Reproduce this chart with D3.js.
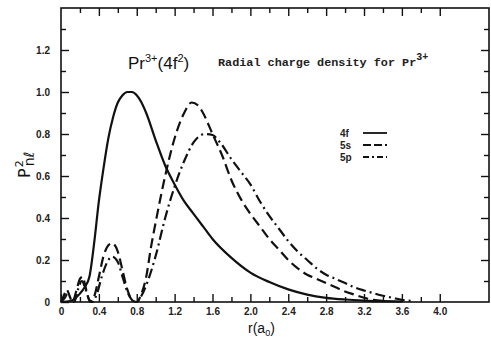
<!DOCTYPE html>
<meta charset="utf-8">
<style>
    body { margin: 0; background: #fff; }
    svg { display: block; }
    .tick text { font-family: 'Liberation Sans', Arial, sans-serif; font-weight: bold; font-size: 10px; fill: #222; }
</style>
<script src="https://d3js.org/d3.v7.min.js"></script>
<div id="graph"></div>
<script>
    // radial densities
    const r4f = [0, 0.1, 0.2, 0.25, 0.3, 0.35, 0.4, 0.45, 0.5, 0.55, 0.6, 0.65, 0.7, 0.75, 0.8, 0.85, 0.9, 1.0, 1.1, 1.2, 1.3, 1.4, 1.5, 1.6, 1.8, 2.0, 2.2, 2.4, 2.6, 2.8, 3.0, 3.2, 3.4, 3.6];
    const p4f = [0, 0.005, 0.04, 0.07, 0.12, 0.28, 0.48, 0.64, 0.78, 0.88, 0.95, 0.985, 1.0, 1.0, 0.985, 0.95, 0.9, 0.77, 0.65, 0.56, 0.48, 0.42, 0.36, 0.3, 0.21, 0.14, 0.095, 0.06, 0.035, 0.02, 0.012, 0.007, 0.004, 0.002];

    const r5s = [0, 0.03, 0.06, 0.09, 0.12, 0.16, 0.2, 0.23, 0.26, 0.31, 0.36, 0.4, 0.45, 0.5, 0.54, 0.6, 0.65, 0.7, 0.75, 0.8, 0.85, 0.9, 0.95, 1.0, 1.1, 1.2, 1.3, 1.38, 1.45, 1.5, 1.6, 1.7, 1.8, 1.9, 2.0, 2.1, 2.2, 2.3, 2.4, 2.5, 2.6, 2.7, 2.8, 2.9, 3.0, 3.1, 3.2, 3.3, 3.4];
    const p5s = [0, 0.03, 0.06, 0.03, 0, 0.05, 0.11, 0.12, 0.07, 0, 0.04, 0.12, 0.22, 0.27, 0.28, 0.24, 0.15, 0.06, 0.01, 0, 0.04, 0.12, 0.26, 0.38, 0.6, 0.78, 0.9, 0.95, 0.935, 0.9, 0.8, 0.7, 0.58, 0.49, 0.42, 0.36, 0.3, 0.25, 0.2, 0.16, 0.13, 0.11, 0.09, 0.07, 0.05, 0.035, 0.02, 0.01, 0.005];

    const r5p = [0, 0.04, 0.07, 0.1, 0.14, 0.18, 0.22, 0.26, 0.3, 0.33, 0.38, 0.43, 0.5, 0.54, 0.6, 0.65, 0.7, 0.75, 0.79, 0.85, 0.9, 1.0, 1.1, 1.2, 1.3, 1.4, 1.52, 1.6, 1.68, 1.8, 1.9, 2.0, 2.1, 2.2, 2.3, 2.4, 2.5, 2.6, 2.7, 2.8, 2.9, 3.0, 3.1, 3.2, 3.3, 3.4, 3.5, 3.6, 3.7];
    const p5p = [0, 0.02, 0.04, 0.02, 0, 0.06, 0.1, 0.06, 0.01, 0, 0.04, 0.12, 0.2, 0.216, 0.19, 0.12, 0.05, 0.01, 0, 0.03, 0.08, 0.22, 0.4, 0.55, 0.67, 0.76, 0.8, 0.795, 0.76, 0.68, 0.62, 0.56, 0.48, 0.41, 0.35, 0.29, 0.24, 0.2, 0.16, 0.13, 0.11, 0.09, 0.07, 0.055, 0.042, 0.03, 0.02, 0.01, 0.005];

    const xTicks = [0, 0.4, 0.8, 1.2, 1.6, 2.0, 2.4, 2.8, 3.2, 3.6, 4.0];
    const xMinor = d3.range(0.2, 4.0, 0.4);
    const yTicks = [0, 0.2, 0.4, 0.6, 0.8, 1.0, 1.2];
    const yMinor = d3.range(0.1, 1.4, 0.2);

    const series = [
        {name: "4f", r: r4f, p: p4f, dash: null},
        {name: "5s", r: r5s, p: p5s, dash: "10,5"},
        {name: "5p", r: r5p, p: p5p, dash: "10,4,2,4"}
    ];

    const W = 491, H = 339;
    const mLeft = 61, mRight = 489, mTop = 8, mBottom = 302;

    const svg = d3.select("#graph").append("svg")
        .attr("width", W).attr("height", H);

    const x = d3.scaleLinear().domain([0, 4.52]).range([mLeft, mRight]);
    const y = d3.scaleLinear().domain([0, 1.4]).range([mBottom, mTop]);

    const fmt = d => d === 0 ? "0" : d.toFixed(1);

    // frame
    svg.append("rect")
        .attr("x", mLeft).attr("y", mTop)
        .attr("width", mRight - mLeft).attr("height", mBottom - mTop)
        .attr("fill", "none").attr("stroke", "#111").attr("stroke-width", 1.6);

    // bottom axis, ticks pointing in
    svg.append("g").attr("transform", `translate(0,${mBottom})`)
        .call(d3.axisBottom(x).tickValues(xTicks).tickFormat(fmt).tickSizeInner(-8).tickSizeOuter(0).tickPadding(6));
    svg.append("g").attr("transform", `translate(0,${mBottom})`)
        .call(d3.axisBottom(x).tickValues(xMinor).tickFormat("").tickSizeInner(-5).tickSizeOuter(0));
    // top
    svg.append("g").attr("transform", `translate(0,${mTop})`)
        .call(d3.axisTop(x).tickValues(xTicks.slice(1)).tickFormat("").tickSizeInner(-8).tickSizeOuter(0));
    svg.append("g").attr("transform", `translate(0,${mTop})`)
        .call(d3.axisTop(x).tickValues(xMinor).tickFormat("").tickSizeInner(-5).tickSizeOuter(0));
    // left
    svg.append("g").attr("transform", `translate(${mLeft},0)`)
        .call(d3.axisLeft(y).tickValues(yTicks).tickFormat(fmt).tickSizeInner(-8).tickSizeOuter(0).tickPadding(11));
    svg.append("g").attr("transform", `translate(${mLeft},0)`)
        .call(d3.axisLeft(y).tickValues(yMinor).tickFormat("").tickSizeInner(-5).tickSizeOuter(0));
    // right
    svg.append("g").attr("transform", `translate(${mRight},0)`)
        .call(d3.axisRight(y).tickValues(yTicks.slice(1)).tickFormat("").tickSizeInner(-8).tickSizeOuter(0));
    svg.append("g").attr("transform", `translate(${mRight},0)`)
        .call(d3.axisRight(y).tickValues(yMinor).tickFormat("").tickSizeInner(-5).tickSizeOuter(0));

    svg.selectAll(".domain").remove();
    svg.selectAll(".tick line").attr("stroke", "#111").attr("stroke-width", 1.4);

    // curves
    const line = d3.line()
        .x(d => x(d[0]))
        .y(d => y(d[1]))
        .curve(d3.curveMonotoneX);

    series.forEach(s => {
        svg.append("path")
            .datum(s.r.map((r, i) => [r, s.p[i]]))
            .attr("d", line)
            .attr("fill", "none")
            .attr("stroke", "#111")
            .attr("stroke-width", 2.2)
            .attr("stroke-dasharray", s.dash);
    });

    // legend
    const leg = svg.append("g");
    series.forEach((s, i) => {
        const ly = 133 + i * 12;
        leg.append("text")
            .attr("x", 340).attr("y", ly + 3.5)
            .attr("font-family", "'Liberation Sans', Arial, sans-serif")
            .attr("font-weight", "bold").attr("font-size", 10)
            .attr("fill", "#222")
            .text(s.name);
        leg.append("line")
            .attr("x1", 363).attr("x2", 387).attr("y1", ly).attr("y2", ly)
            .attr("stroke", "#111").attr("stroke-width", 1.8)
            .attr("stroke-dasharray", s.dash === null ? null : (i === 1 ? "8,3" : "6,3,2,3"));
    });

    // titles
    const t1 = svg.append("text")
        .attr("x", 128).attr("y", 69)
        .attr("font-family", "'Liberation Sans', Arial, sans-serif")
        .attr("font-size", 17).attr("fill", "#111");
    t1.append("tspan").text("Pr");
    t1.append("tspan").attr("dy", -7).attr("font-size", 11).text("3+");
    t1.append("tspan").attr("dy", 7).text("(4f");
    t1.append("tspan").attr("dy", -7).attr("font-size", 11).text("2");
    t1.append("tspan").attr("dy", 7).text(")");

    const t2 = svg.append("text")
        .attr("x", 218).attr("y", 66)
        .attr("font-family", "'Liberation Mono', 'Courier New', monospace")
        .attr("font-weight", "bold")
        .attr("font-size", 11.8).attr("fill", "#222");
    t2.append("tspan").text("Radial charge density for Pr");
    t2.append("tspan").attr("dy", -6).attr("font-size", 10).text("3+");

    // y label
    const yl = svg.append("text")
        .attr("transform", "translate(30,178) rotate(-90)")
        .attr("font-family", "'DejaVu Sans', sans-serif")
        .attr("font-size", 16).attr("fill", "#111");
    yl.append("tspan").text("P");
    yl.append("tspan").attr("dy", -7).attr("dx", 1).attr("font-size", 11).text("2");
    yl.append("tspan").attr("dy", 11).attr("dx", -6).attr("font-size", 14).text("nℓ");

    // x label
    const xl = svg.append("text")
        .attr("x", 248).attr("y", 333)
        .attr("font-family", "'Liberation Sans', Arial, sans-serif")
        .attr("font-size", 14).attr("fill", "#111");
    xl.append("tspan").text("r(a");
    xl.append("tspan").attr("dy", 3).attr("font-size", 9).text("0");
    xl.append("tspan").attr("dy", -3).text(")");
</script>
